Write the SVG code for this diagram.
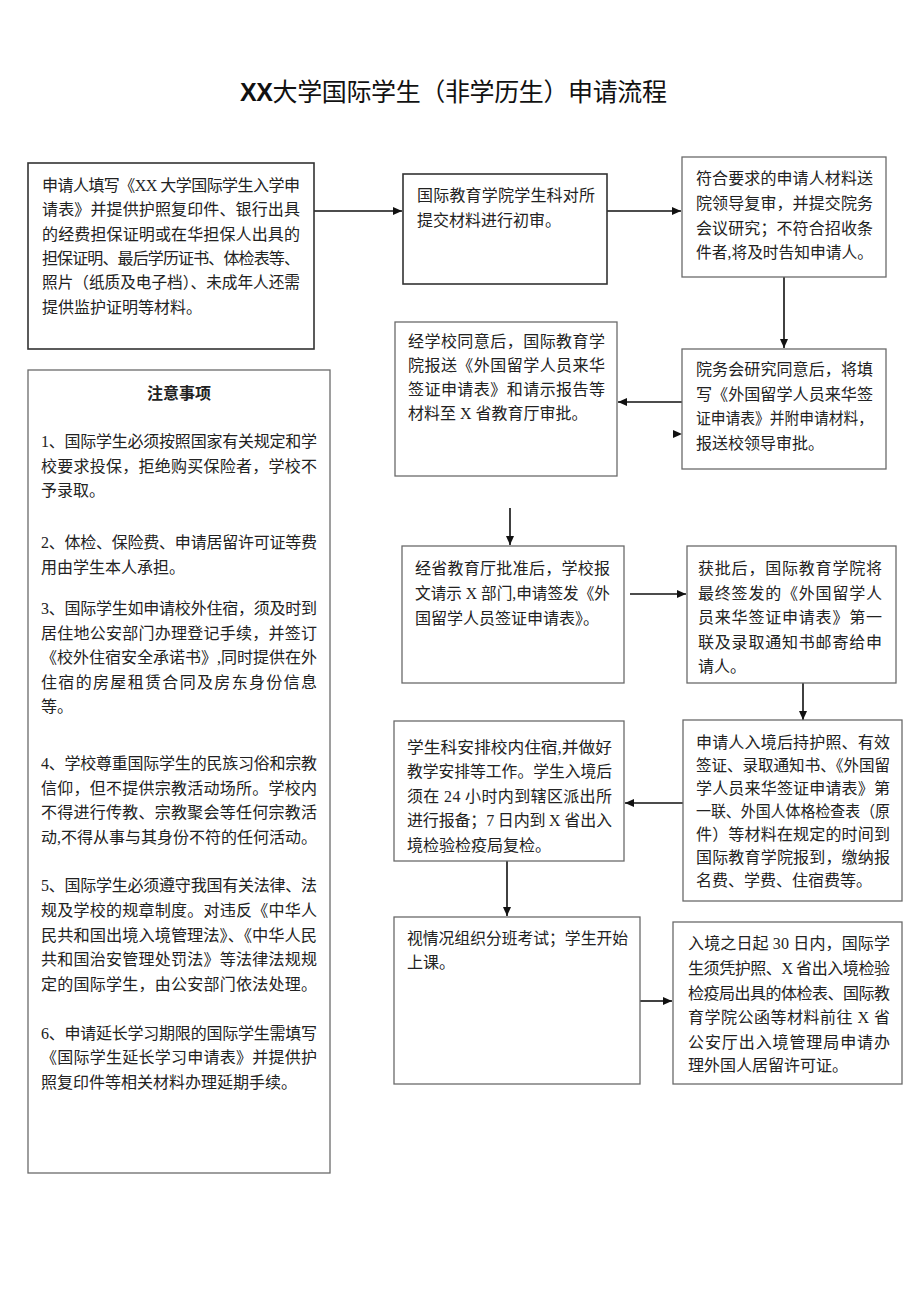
<svg xmlns="http://www.w3.org/2000/svg" width="920" height="1301" viewBox="0 0 920 1301">
<style>
.t{font-family:"Liberation Serif","Noto Sans CJK SC",serif;font-size:16px;fill:#222}
.box{fill:#fff;stroke:#6a6a6a;stroke-width:1.3}
.boxd{fill:#fff;stroke:#333;stroke-width:1.6}
.c{stroke:#111;stroke-width:1.6;fill:none}
.title{font-family:"Noto Sans CJK SC","Liberation Sans",sans-serif;font-size:25px;fill:#111}
</style>
<defs>
<marker id="ah" markerUnits="userSpaceOnUse" markerWidth="10" markerHeight="10" refX="9" refY="5" orient="auto">
<path d="M0,1 L9,5 L0,9 Z" fill="#111"/>
</marker>
</defs>
<rect width="920" height="1301" fill="#fff"/>

<text class="title" x="240" y="101" textLength="427"><tspan font-family="Liberation Sans" font-weight="bold">XX</tspan>大学国际学生（非学历生）申请流程</text>

<g id="connectors">
<line class="c" x1="314" y1="211" x2="402" y2="211" marker-end="url(#ah)"/>
<line class="c" x1="607" y1="211" x2="681" y2="211" marker-end="url(#ah)"/>
<line class="c" x1="784" y1="277" x2="784" y2="348" marker-end="url(#ah)"/>
<line class="c" x1="682" y1="402" x2="618" y2="402" marker-end="url(#ah)"/>
<path d="M673,430 L682,434 L673,438 Z" fill="#111"/>
<line class="c" x1="510" y1="508" x2="510" y2="545" marker-end="url(#ah)"/>
<line class="c" x1="630" y1="594" x2="686" y2="594" marker-end="url(#ah)"/>
<line class="c" x1="803" y1="683" x2="803" y2="720" marker-end="url(#ah)"/>
<line class="c" x1="683" y1="803" x2="625" y2="803" marker-end="url(#ah)"/>
<line class="c" x1="507" y1="861" x2="507" y2="916" marker-end="url(#ah)"/>
<line class="c" x1="640" y1="1001" x2="672" y2="1001" marker-end="url(#ah)"/>
</g>

<g id="n1">
<rect class="boxd" x="28" y="163" width="286" height="186"/>
<text class="t" x="42" y="191" textLength="258">申请人填写《XX 大学国际学生入学申</text>
<text class="t" x="42" y="215" textLength="258">请表》并提供护照复印件、银行出具</text>
<text class="t" x="42" y="240" textLength="258">的经费担保证明或在华担保人出具的</text>
<text class="t" x="42" y="264" textLength="258">担保证明、最后学历证书、体检表等、</text>
<text class="t" x="42" y="288" textLength="258" lengthAdjust="spacingAndGlyphs">照片（纸质及电子档）、未成年人还需</text>
<text class="t" x="42" y="313">提供监护证明等材料。</text>
</g>

<g id="n2">
<rect class="boxd" x="403" y="174" width="204" height="110"/>
<text class="t" x="417" y="201" textLength="178">国际教育学院学生科对所</text>
<text class="t" x="417" y="226">提交材料进行初审。</text>
</g>

<g id="n3">
<rect class="box" x="682" y="157" width="204" height="120"/>
<text class="t" x="696" y="184" textLength="177">符合要求的申请人材料送</text>
<text class="t" x="696" y="209" textLength="177">院领导复审，并提交院务</text>
<text class="t" x="696" y="234" textLength="177">会议研究；不符合招收条</text>
<text class="t" x="696" y="258" textLength="177" lengthAdjust="spacingAndGlyphs">件者,将及时告知申请人。</text>
</g>

<g id="n4">
<rect class="box" x="682" y="349" width="204" height="120"/>
<text class="t" x="696" y="375" textLength="177">院务会研究同意后，将填</text>
<text class="t" x="696" y="400" textLength="177" lengthAdjust="spacingAndGlyphs">写《外国留学人员来华签</text>
<text class="t" x="696" y="424" textLength="177" lengthAdjust="spacingAndGlyphs">证申请表》并附申请材料，</text>
<text class="t" x="696" y="449">报送校领导审批。</text>
</g>

<g id="n5">
<rect class="box" x="395" y="322" width="222" height="154"/>
<text class="t" x="408" y="347" textLength="197">经学校同意后，国际教育学</text>
<text class="t" x="408" y="371" textLength="197">院报送《外国留学人员来华</text>
<text class="t" x="408" y="395" textLength="197">签证申请表》和请示报告等</text>
<text class="t" x="408" y="419">材料至 X 省教育厅审批。</text>
</g>

<g id="n6">
<rect class="box" x="402" y="546" width="222" height="137"/>
<text class="t" x="415" y="574" textLength="195">经省教育厅批准后，学校报</text>
<text class="t" x="415" y="599" textLength="195" lengthAdjust="spacingAndGlyphs">文请示 X 部门,申请签发《外</text>
<text class="t" x="415" y="624">国留学人员签证申请表》。</text>
</g>

<g id="n7">
<rect class="box" x="687" y="546" width="209" height="137"/>
<text class="t" x="698" y="574" textLength="184">获批后，国际教育学院将</text>
<text class="t" x="698" y="599" textLength="184">最终签发的《外国留学人</text>
<text class="t" x="698" y="623" textLength="184">员来华签证申请表》第一</text>
<text class="t" x="698" y="648" textLength="184">联及录取通知书邮寄给申</text>
<text class="t" x="698" y="672">请人。</text>
</g>

<g id="n8">
<rect class="box" x="394" y="721" width="230" height="140"/>
<text class="t" x="407" y="753" textLength="205" lengthAdjust="spacingAndGlyphs">学生科安排校内住宿,并做好</text>
<text class="t" x="407" y="777" textLength="205" lengthAdjust="spacingAndGlyphs">教学安排等工作。学生入境后</text>
<text class="t" x="407" y="802" textLength="205">须在 24 小时内到辖区派出所</text>
<text class="t" x="407" y="826" textLength="205">进行报备；7 日内到 X 省出入</text>
<text class="t" x="407" y="851">境检验检疫局复检。</text>
</g>

<g id="n9">
<rect class="box" x="683" y="720" width="219" height="181"/>
<text class="t" x="696" y="748" textLength="194">申请人入境后持护照、有效</text>
<text class="t" x="696" y="771" textLength="194" lengthAdjust="spacingAndGlyphs">签证、录取通知书、《外国留</text>
<text class="t" x="696" y="794" textLength="194">学人员来华签证申请表》第</text>
<text class="t" x="696" y="817" textLength="194" lengthAdjust="spacingAndGlyphs">一联、外国人体格检查表（原</text>
<text class="t" x="696" y="840" textLength="194">件）等材料在规定的时间到</text>
<text class="t" x="696" y="863" textLength="194">国际教育学院报到，缴纳报</text>
<text class="t" x="696" y="886">名费、学费、住宿费等。</text>
</g>

<g id="n10">
<rect class="box" x="394" y="917" width="246" height="167"/>
<text class="t" x="407" y="944" textLength="221" lengthAdjust="spacingAndGlyphs">视情况组织分班考试；学生开始</text>
<text class="t" x="407" y="968">上课。</text>
</g>

<g id="n11">
<rect class="box" x="673" y="922" width="229" height="162"/>
<text class="t" x="688" y="949" textLength="202">入境之日起 30 日内，国际学</text>
<text class="t" x="688" y="974" textLength="202">生须凭护照、X 省出入境检验</text>
<text class="t" x="688" y="999" textLength="202">检疫局出具的体检表、国际教</text>
<text class="t" x="688" y="1023" textLength="202">育学院公函等材料前往 X 省</text>
<text class="t" x="688" y="1048" textLength="202">公安厅出入境管理局申请办</text>
<text class="t" x="688" y="1071">理外国人居留许可证。</text>
</g>

<g id="notes">
<rect class="box" x="28" y="370" width="302" height="803" stroke="#888"/>
<text class="t" x="179" y="399" text-anchor="middle" font-weight="bold">注意事项</text>
<text class="t" x="41" y="447" textLength="276">1、国际学生必须按照国家有关规定和学</text>
<text class="t" x="41" y="472" textLength="276">校要求投保，拒绝购买保险者，学校不</text>
<text class="t" x="41" y="496">予录取。</text>
<text class="t" x="41" y="548" textLength="276">2、体检、保险费、申请居留许可证等费</text>
<text class="t" x="41" y="573">用由学生本人承担。</text>
<text class="t" x="41" y="614" textLength="276">3、国际学生如申请校外住宿，须及时到</text>
<text class="t" x="41" y="639" textLength="276">居住地公安部门办理登记手续，并签订</text>
<text class="t" x="41" y="663" textLength="276" lengthAdjust="spacingAndGlyphs">《校外住宿安全承诺书》,同时提供在外</text>
<text class="t" x="41" y="688" textLength="276">住宿的房屋租赁合同及房东身份信息</text>
<text class="t" x="41" y="712">等。</text>
<text class="t" x="41" y="769" textLength="276">4、学校尊重国际学生的民族习俗和宗教</text>
<text class="t" x="41" y="794" textLength="276">信仰，但不提供宗教活动场所。学校内</text>
<text class="t" x="41" y="818" textLength="276">不得进行传教、宗教聚会等任何宗教活</text>
<text class="t" x="41" y="843" textLength="276" lengthAdjust="spacingAndGlyphs">动,不得从事与其身份不符的任何活动。</text>
<text class="t" x="41" y="891" textLength="276">5、国际学生必须遵守我国有关法律、法</text>
<text class="t" x="41" y="916" textLength="276">规及学校的规章制度。对违反《中华人</text>
<text class="t" x="41" y="941" textLength="276" lengthAdjust="spacingAndGlyphs">民共和国出境入境管理法》、《中华人民</text>
<text class="t" x="41" y="965" textLength="276">共和国治安管理处罚法》等法律法规规</text>
<text class="t" x="41" y="990" textLength="276">定的国际学生，由公安部门依法处理。</text>
<text class="t" x="41" y="1039" textLength="276">6、申请延长学习期限的国际学生需填写</text>
<text class="t" x="41" y="1063" textLength="276">《国际学生延长学习申请表》并提供护</text>
<text class="t" x="41" y="1088">照复印件等相关材料办理延期手续。</text>
</g>
</svg>
